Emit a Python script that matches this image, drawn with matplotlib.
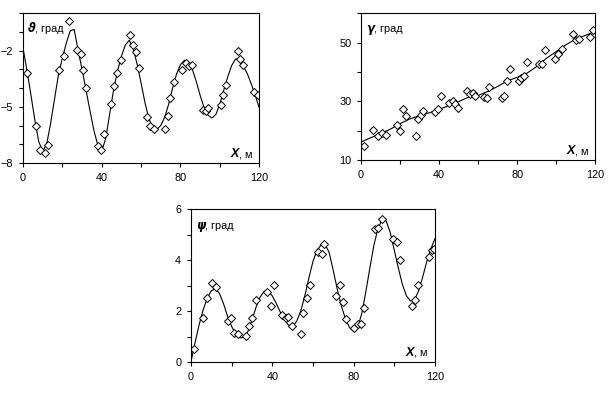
import matplotlib
matplotlib.use('Agg')
import matplotlib.pyplot as plt
from matplotlib.ticker import FixedLocator, MultipleLocator

plt.rcParams['font.family'] = ['Liberation Sans', 'DejaVu Sans']
plt.rcParams['font.size'] = 7.8

# ---- theta (top left) ----
theta_x = [2.2, 6.5, 8.5, 11.0, 12.7, 18.3, 20.7, 23.2, 27.6, 29.3, 30.5, 31.9,
           38.1, 39.8, 41.0, 44.9, 46.3, 48.0, 50.0, 54.2, 55.9, 57.6, 58.8,
           63.2, 64.4, 66.6, 72.0, 73.7, 74.9, 76.8, 81.0, 82.7, 84.4, 85.9,
           91.5, 92.7, 94.0, 100.4, 101.7, 102.9, 109.3, 110.3, 112.0, 117.4, 119.2]
theta_y = [-3.2, -6.04, -7.29, -7.46, -7.05, -3.05, -2.27, -0.44, -1.99, -2.17, -3.05, -4.0,
           -7.1, -7.32, -6.43, -4.85, -3.87, -3.2, -2.49, -1.19, -1.69, -2.1, -2.93,
           -5.54, -6.04, -6.17, -6.17, -5.51, -4.53, -3.68, -3.04, -2.66, -2.84, -2.79,
           -5.15, -5.24, -5.06, -4.89, -4.35, -3.86, -2.04, -2.45, -2.79, -4.23, -4.39]
theta_fit_x = list(range(0, 122, 2))
theta_fit_y = [-1.86, -3.05, -4.35, -5.7, -6.85, -7.37, -7.0, -5.9, -4.6, -3.3,
               -2.4, -1.6, -0.95, -0.88, -2.0, -3.0, -4.1, -5.2, -6.25, -7.05,
               -7.35, -6.7, -5.4, -4.1, -3.1, -2.3, -1.7, -1.45, -1.9, -2.75,
               -3.75, -4.8, -5.65, -6.12, -6.2, -6.0, -5.55, -4.85, -4.0, -3.25,
               -2.75, -2.52, -2.62, -3.0, -3.65, -4.4, -5.05, -5.45, -5.6, -5.4,
               -4.85, -4.1, -3.4, -2.8, -2.45, -2.45, -2.85, -3.25, -3.8, -4.4, -5.05]

# ---- gamma (top right) ----
gamma_x = [1.7, 6.3, 8.4, 10.6, 12.8, 18.6, 20.0, 21.7, 23.0, 28.0, 29.0, 30.6, 31.9,
           37.9, 39.6, 40.8, 45.2, 46.9, 48.1, 49.8, 54.1, 55.8, 57.2, 58.4, 63.0,
           64.7, 65.7, 72.0, 73.2, 74.9, 76.3, 80.9, 81.9, 83.6, 85.2, 91.3, 92.5,
           94.2, 99.4, 101.1, 102.8, 108.4, 110.1, 111.8, 117.3, 119.0]
gamma_y = [14.9, 20.2, 18.2, 19.3, 18.5, 21.9, 19.9, 27.4, 25.1, 18.0, 23.9, 25.3, 26.7,
           26.3, 27.3, 31.9, 29.3, 30.1, 29.0, 27.8, 33.5, 32.4, 33.0, 31.9, 31.4,
           31.0, 34.8, 31.0, 31.9, 36.9, 41.0, 36.9, 38.1, 38.6, 43.5, 42.6, 42.6,
           47.5, 44.3, 46.0, 47.7, 52.8, 50.9, 51.1, 52.0, 54.3]
gamma_fit_x = list(range(0, 125, 5))
gamma_fit_y = [16.1, 17.6, 19.0, 20.5, 22.4, 24.0, 25.1, 26.1, 27.3, 28.5, 29.9, 31.4,
               32.0, 33.4, 35.1, 37.0, 38.2, 39.6, 41.9, 44.7, 47.0, 49.3, 51.3, 52.5, 53.9]

# ---- psi (bottom) ----
psi_x = [1.6, 5.7, 7.7, 10.5, 12.1, 18.0, 19.7, 21.1, 23.0, 27.0, 28.7, 30.2, 32.0,
         37.5, 39.2, 40.8, 44.6, 46.7, 47.9, 49.5, 53.9, 55.2, 56.9, 58.5, 62.6,
         64.6, 65.6, 71.3, 73.3, 74.6, 76.1, 80.2, 82.3, 83.6, 85.2, 90.5, 92.1,
         93.8, 99.5, 101.5, 102.8, 108.9, 110.2, 111.8, 117.2, 118.4, 119.5]
psi_y = [0.51, 1.73, 2.51, 3.12, 2.94, 1.62, 1.73, 1.14, 1.11, 1.01, 1.42, 1.73, 2.44,
         2.75, 2.21, 3.01, 1.83, 1.73, 1.75, 1.42, 1.11, 1.92, 2.51, 3.01, 4.34,
         4.25, 4.63, 2.61, 3.03, 2.34, 1.70, 1.33, 1.50, 1.50, 2.12, 5.22, 5.29,
         5.62, 4.82, 4.73, 4.01, 2.21, 2.44, 3.01, 4.12, 4.41, 4.43]
psi_fit_x = list(range(0, 122, 2))
psi_fit_y = [0.0, 0.75, 1.45, 2.05, 2.5, 2.8, 2.88, 2.7, 2.3, 1.8,
             1.4, 1.1, 0.95, 0.96, 1.2, 1.65, 2.15, 2.55, 2.78, 2.78,
             2.6, 2.3, 1.95, 1.65, 1.45, 1.4, 1.6, 2.0, 2.6, 3.3,
             3.95, 4.4, 4.6, 4.63, 4.3, 3.6, 2.85, 2.2, 1.7, 1.35,
             1.2, 1.35, 1.9, 2.75, 3.7, 4.6, 5.25, 5.6, 5.55, 5.1,
             4.4, 3.7, 3.05, 2.6, 2.4, 2.45, 2.8, 3.35, 3.95, 4.45, 4.85]

x_major = [0, 40, 80, 120]


def draw(ax, px, py, fx, fy, ylim, ymajor, yminor, sym):
    ax.plot(fx, fy, color='black', lw=0.8)
    ax.plot(px, py, ls='none', marker='D', ms=4.4, mfc='white', mec='black', mew=0.7)
    ax.set_xlim(0, 120)
    ax.set_ylim(*ylim)
    ax.xaxis.set_major_locator(FixedLocator(x_major))
    ax.xaxis.set_minor_locator(MultipleLocator(20))
    ax.yaxis.set_major_locator(FixedLocator(ymajor))
    ax.yaxis.set_minor_locator(MultipleLocator(yminor))
    ax.tick_params(which='both', direction='out', length=3, width=0.8, labelsize=7.8, pad=4)
    for s in ax.spines.values():
        s.set_linewidth(0.8)
    # variable name, top left
    t1 = ax.text(0.02, 0.87, sym, transform=ax.transAxes, fontsize=8.5,
                 fontweight='bold', fontstyle='italic', va='baseline', ha='left',
                 family=['DejaVu Sans'])
    ax.annotate(', град', xy=(1, 0.87), xycoords=(t1, 'axes fraction'),
                fontsize=7.8, va='baseline', ha='left')
    # axis name, bottom right
    t2 = ax.text(0.915, 0.04, 'X', transform=ax.transAxes, fontsize=9,
                 fontweight='bold', fontstyle='italic', va='baseline', ha='right')
    ax.annotate(', м', xy=(1, 0.04), xycoords=(t2, 'axes fraction'),
                fontsize=7.8, va='baseline', ha='left')


fig = plt.figure(figsize=(6.1, 3.93), dpi=100)
ax1 = fig.add_axes([0.0377, 0.585, 0.3873, 0.382])
ax2 = fig.add_axes([0.592, 0.593, 0.384, 0.373])
ax3 = fig.add_axes([0.313, 0.079, 0.400, 0.388])

draw(ax1, theta_x, theta_y, theta_fit_x, theta_fit_y, (-8, 0), [-8, -5, -2], 1, 'ϑ')
draw(ax2, gamma_x, gamma_y, gamma_fit_x, gamma_fit_y, (10, 60), [10, 30, 50], 10, 'γ')
draw(ax3, psi_x, psi_y, psi_fit_x, psi_fit_y, (0, 6), [0, 2, 4, 6], 1, 'ψ')

fig.savefig('out.png', dpi=100)
